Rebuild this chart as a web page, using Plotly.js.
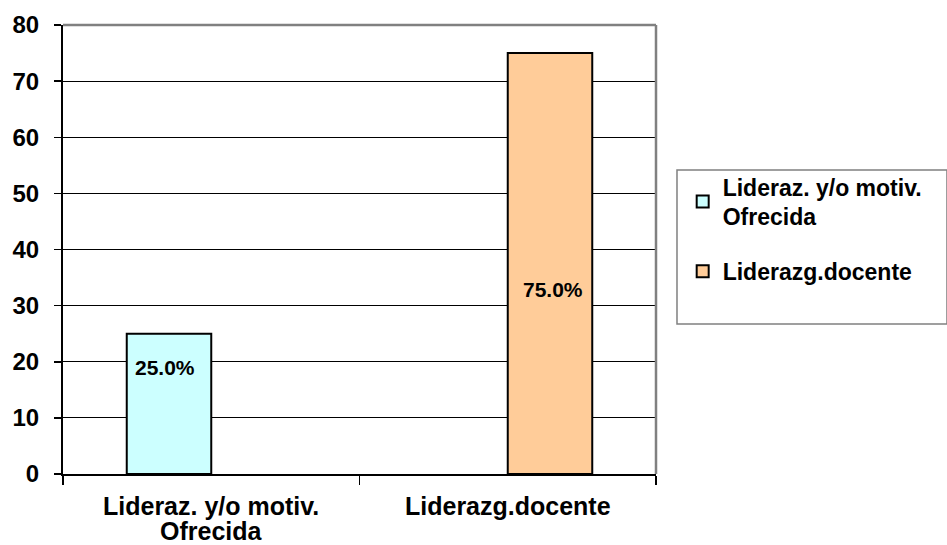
<!DOCTYPE html>
<html>
<head>
<meta charset="utf-8">
<script src="https://cdn.plot.ly/plotly-3.0.1.min.js"></script>
<style>html,body{margin:0;padding:0;background:#fff;}#chart{width:947px;height:545px;}</style>
</head>
<body>
<div id="chart"></div>
<script>
var categories = ["Lideraz. y/o motiv.<br>Ofrecida", "Liderazg.docente"];
var seriesNames = ["Lideraz. y/o motiv.<br>Ofrecida", "Liderazg.docente"];
var series1 = [25, null];
var series2 = [null, 75];
var yTicks = [0, 10, 20, 30, 40, 50, 60, 70, 80];

var FONT = "'Liberation Sans', Arial, sans-serif";
var colors = ["#CCFFFF", "#FFCC99"];
var values = [series1, series2];

var traces = values.map(function (v, i) {
  return {
    type: "bar",
    name: seriesNames[i],
    legendgroup: "g" + i,
    x: categories,
    y: v,
    marker: { color: colors[i], line: { color: "#000", width: 2 } },
    hoverinfo: "none"
  };
});

// value labels (layout placement only)
var labelY = [19, 32.8];
var labelXShift = [-78, 45];
var labelAnchor = ["left", "center"];
var annotations = [];
values.forEach(function (v, i) {
  v.forEach(function (val, j) {
    if (val === null) return;
    annotations.push({
      x: categories[j], y: labelY[i], xref: "x", yref: "y",
      text: val.toFixed(1) + "%", showarrow: false,
      xshift: labelXShift[i], xanchor: labelAnchor[i],
      font: { family: FONT, size: 21, color: "#000", weight: "bold" }
    });
  });
});

// category labels drawn line by line (tighter line spacing than tick labels allow)
var catLineFirst = -32, catLineStep = 25;
categories.forEach(function (c) {
  c.split("<br>").forEach(function (line, k) {
    annotations.push({
      x: c, y: 0, xref: "x", yref: "paper", yanchor: "middle",
      yshift: catLineFirst - k * catLineStep,
      text: line, showarrow: false, borderpad: 0,
      font: { family: FONT, size: 25, color: "#000", weight: "bold" }
    });
  });
});

var layout = {
  width: 947, height: 545,
  margin: { l: 63, r: 291, t: 25, b: 71 },
  paper_bgcolor: "#fff", plot_bgcolor: "#fff",
  barmode: "group", bargap: 0.43, bargroupgap: 0,
  showlegend: true,
  legend: {
    x: 1.045, y: 0.688, xanchor: "left", yanchor: "top",
    borderwidth: 0, bgcolor: "rgba(0,0,0,0)",
    font: { family: FONT, size: 23, color: "#000", weight: "bold" },
    traceorder: "grouped", tracegroupgap: 22, itemwidth: 30
  },
  xaxis: {
    type: "category", tickson: "boundaries", ticks: "outside", ticklen: 9,
    tickcolor: "#000", tickwidth: 1.5,
    showline: true, linecolor: "#000", linewidth: 2,
    showgrid: false, fixedrange: true, showticklabels: false
  },
  yaxis: {
    range: [0, 80], tickvals: yTicks, ticks: "outside", ticklen: 7,
    tickcolor: "#000", tickwidth: 1.5,
    showline: true, linecolor: "#000", linewidth: 2,
    showgrid: true, gridcolor: "#000", gridwidth: 1,
    zeroline: false, fixedrange: true, ticklabelstandoff: 10,
    tickfont: { family: FONT, size: 24, color: "#000", weight: "bold" }
  },
  shapes: [
    { type: "line", xref: "paper", yref: "paper", x0: 0, x1: 1, y0: 1, y1: 1, line: { color: "#808080", width: 2.5 } },
    { type: "line", xref: "paper", yref: "paper", x0: 1, x1: 1, y0: 0, y1: 1, line: { color: "#808080", width: 2.5 } },
    { type: "rect", xref: "paper", yref: "paper", x0: 1.0354, x1: 1.4907, y0: 0.334, y1: 0.677, line: { color: "#808080", width: 1.5 } }
  ],
  annotations: annotations
};

Plotly.newPlot("chart", traces, layout, { displayModeBar: false, staticPlot: true });
</script>
</body>
</html>
